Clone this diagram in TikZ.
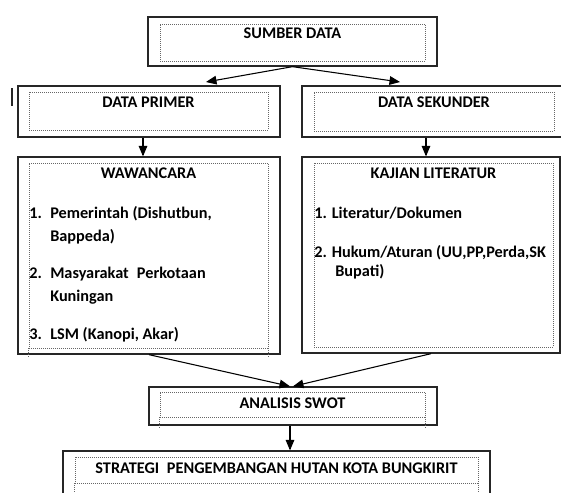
\documentclass[tikz,border=0pt]{standalone}
\usepackage{fontspec}
\setmainfont{Carlito}
\usetikzlibrary{arrows}
\newcommand{\boxfont}{\fontsize{12.2}{15}\selectfont\bfseries}
\tikzstyle{outerbox} = [rectangle, draw=black!85, line width=1pt, inner sep=0pt]
\tikzstyle{innerbox} = [rectangle, draw=black!60, densely dotted, line width=0.5pt, inner sep=0pt]
\tikzstyle{dotext} = [draw=black!60, densely dotted, line width=0.5pt]
\tikzstyle{boxtitle} = [font=\boxfont, inner sep=0pt]
\tikzstyle{itemtext} = [font=\boxfont, anchor=base west, inner sep=0pt]
\tikzstyle{arrow} = [line width=0.8pt,->,>=triangle 45]

\begin{document}
\begin{tikzpicture}[x=0.75pt, y=-0.75pt]
\useasboundingbox (0,0) rectangle (561,493);

%% outer boxes
\node (sumber)   [outerbox, minimum width=216.75pt, minimum height=36.75pt]  at (292.5,41.5) {};
\node (primer)   [outerbox, minimum width=196.5pt,  minimum height=38.25pt]  at (149,111.5) {};
\node (sekunder) [outerbox, minimum width=195.75pt, minimum height=38.25pt]  at (432.5,111.5) {};
\node (waw)      [outerbox, minimum width=196.5pt,  minimum height=147.75pt] at (149,255.5) {};
\node (kajian)   [outerbox, minimum width=193.5pt,  minimum height=147pt]    at (431,255) {};
\node (swot)     [outerbox, minimum width=216pt,    minimum height=28.5pt]   at (293,406) {};
\node (strategi) [outerbox, minimum width=320.25pt, minimum height=36.75pt]  at (276.5,475.5) {};

%% dotted text frames
\node (sumberin)   [innerbox, minimum width=198.75pt, minimum height=27.75pt]  at (292.5,42.5) {};
\node (primerin)   [innerbox, minimum width=179.25pt, minimum height=28.5pt]   at (148.5,111) {};
\node (sekunderin) [innerbox, minimum width=180pt,    minimum height=29.25pt]  at (434,111.5) {};
\node (wawin)      [innerbox, minimum width=179.25pt, minimum height=138.75pt] at (148.5,255.5) {};
\node (kajianin)   [innerbox, minimum width=179.25pt, minimum height=138pt]    at (433.5,255) {};
\node (swotin)     [innerbox, minimum width=198.75pt, minimum height=18.75pt]  at (292.5,404.5) {};
\node (strategiin) [innerbox, minimum width=302.25pt, minimum height=19.5pt]   at (276.5,470) {};
\draw [dotext] (wawin.south west) -- ++(0,9);
\draw [dotext] (wawin.south east) -- ++(0,9);
\draw [dotext] (swotin.south west) -- ++(0,11);
\draw [dotext] (swotin.south east) -- ++(0,11);
\draw [dotext] (strategiin.south west) -- ++(0,15);
\draw [dotext] (strategiin.south east) -- ++(0,15);

%% stray mark left of the primary data box
\draw [line width=1.5pt, black!85] (12,88) -- (12,106);

%% titles
\node (tsumber)   [boxtitle] at (292.5,33) {SUMBER DATA};
\node (tprimer)   [boxtitle] at (148.5,102) {DATA PRIMER};
\node (tsekunder) [boxtitle] at (434,102) {DATA SEKUNDER};
\node (twaw)      [boxtitle] at (148.5,173) {WAWANCARA};
\node (tkajian)   [boxtitle] at (433.5,173) {KAJIAN LITERATUR};
\node (tswot)     [boxtitle] at (292.5,403) {ANALISIS SWOT};
\node (tstrategi) [boxtitle] at (276.5,468) {STRATEGI\hspace{0.25em} PENGEMBANGAN HUTAN KOTA BUNGKIRIT};

%% interview list
\node (n1) [itemtext] at (29,218) {1.};
\node (w1) [itemtext] at (50,218) {Pemerintah (Dishutbun,};
\node (w1b) [itemtext] at (50,241) {Bappeda)};
\node (n2) [itemtext] at (29,278) {2.};
\node (w2) [itemtext] at (50,278) {Masyarakat\hspace{0.5em}Perkotaan};
\node (w2b) [itemtext] at (50,301) {Kuningan};
\node (n3) [itemtext] at (29,339) {3.};
\node (w3) [itemtext] at (50,339) {LSM (Kanopi, Akar)};

%% literature list
\node (k1) [itemtext] at (314,218) {1. Literatur/Dokumen};
\node (k2) [itemtext] at (314,257) {2. Hukum/Aturan (UU,PP,Perda,SK};
\node (k2b) [itemtext] at (335,276) {Bupati)};

%% connectors
\coordinate (tipL) at (206,82);
\coordinate (tipR) at (400,82);
\draw [arrow] (sumber.south) -- (tipL);
\draw [arrow] (sumber.south) -- (tipR);
\draw [arrow] ([xshift=-4.5pt]primer.south) -- ([xshift=-4.5pt]waw.north);
\draw [arrow] ([xshift=-4.875pt]sekunder.south) -- ([xshift=-3.75pt]kajian.north);
\draw [arrow] (waw.south) -- ([xshift=-2.25pt]swot.north);
\draw [arrow] (kajian.south) -- (swot.north);
\draw [arrow] ([xshift=-2.25pt]swot.south) -- ([xshift=10.125pt]strategi.north);
\end{tikzpicture}
\end{document}
